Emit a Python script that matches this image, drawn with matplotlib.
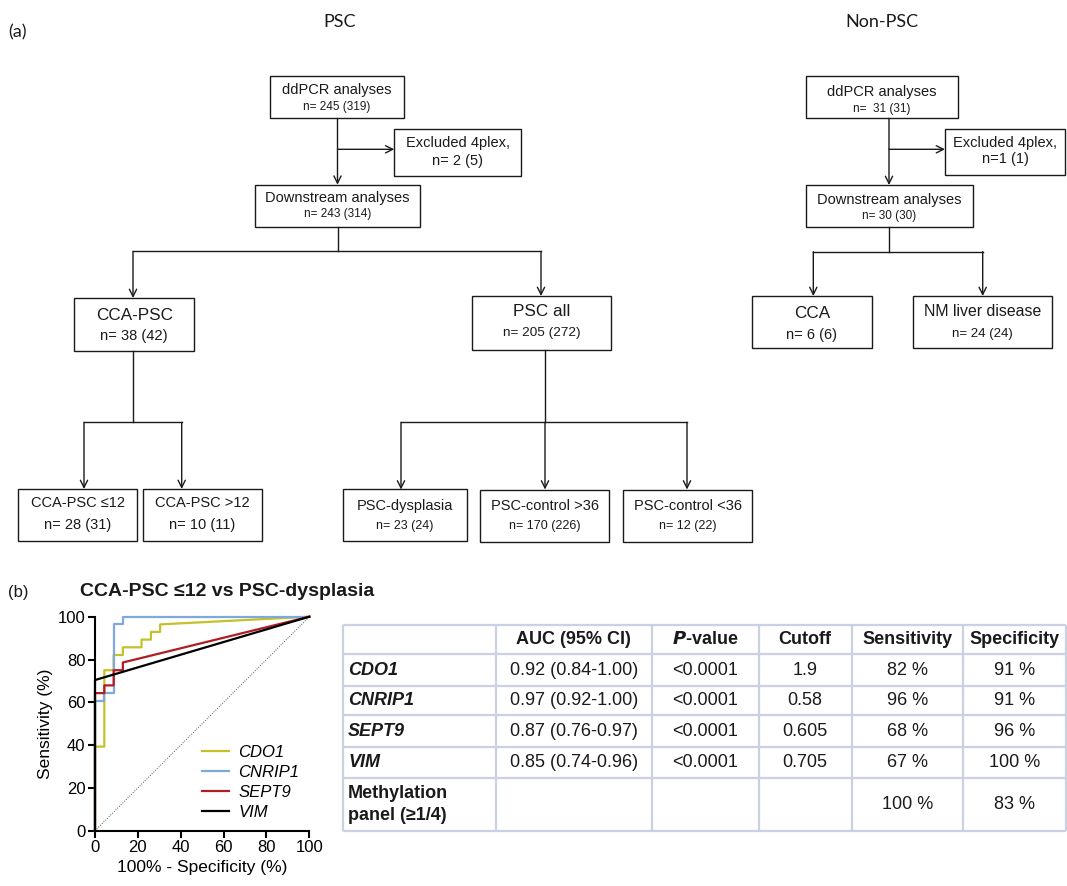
import matplotlib
matplotlib.use('Agg')
import matplotlib.pyplot as plt
from matplotlib.patches import Rectangle

plt.rcParams['font.family'] = ['Liberation Sans', 'DejaVu Sans']

# ---- flowchart contents ----
psc_labels = ['ddPCR analyses', 'Excluded 4plex,', 'Downstream analyses', 'CCA-PSC', 'PSC all',
              'CCA-PSC \u226412', 'CCA-PSC >12', 'PSC-dysplasia', 'PSC-control >36', 'PSC-control <36']
psc_counts = ['n= 245 (319)', 'n= 2 (5)', 'n= 243 (314)', 'n= 38 (42)', 'n= 205 (272)',
              'n= 28 (31)', 'n= 10 (11)', 'n= 23 (24)', 'n= 170 (226)', 'n= 12 (22)']
non_labels = ['ddPCR analyses', 'Excluded 4plex,', 'Downstream analyses', 'CCA', 'NM liver disease']
non_counts = ['n=  31 (31)', 'n=1 (1)', 'n= 30 (30)', 'n= 6 (6)', 'n= 24 (24)']

# ---- ROC curves (100% - specificity, sensitivity) ----
cdo1_fpr = [0, 0, 4.35, 4.35, 8.7, 8.7, 13.0, 13.0, 21.7, 21.7, 26.1, 26.1, 30.4, 30.4, 100]
cdo1_tpr = [0, 39.3, 39.3, 75.0, 75.0, 82.1, 82.1, 85.7, 85.7, 89.3, 89.3, 92.9, 92.9, 96.4, 100]
cnrip1_fpr = [0, 0, 4.35, 4.35, 8.7, 8.7, 13.0, 13.0, 100]
cnrip1_tpr = [0, 60.7, 60.7, 64.3, 64.3, 96.4, 96.4, 100, 100]
sept9_fpr = [0, 0, 4.35, 4.35, 8.7, 8.7, 13.0, 13.0, 100]
sept9_tpr = [0, 64.3, 64.3, 67.9, 67.9, 75.0, 75.0, 78.6, 100]
vim_fpr = [0, 0, 100]
vim_tpr = [0, 70.4, 100]
genes = ['CDO1', 'CNRIP1', 'SEPT9', 'VIM']

# ---- table ----
col_headers = ['', 'AUC (95% CI)', 'P-value', 'Cutoff', 'Sensitivity', 'Specificity']
row_names = ['CDO1', 'CNRIP1', 'SEPT9', 'VIM', 'Methylation\npanel (\u22651/4)']
auc_ci = ['0.92 (0.84-1.00)', '0.97 (0.92-1.00)', '0.87 (0.76-0.97)', '0.85 (0.74-0.96)', '']
p_values = ['<0.0001', '<0.0001', '<0.0001', '<0.0001', '']
cutoffs = ['1.9', '0.58', '0.605', '0.705', '']
sensitivity = ['82 %', '96 %', '68 %', '67 %', '100 %']
specificity = ['91 %', '91 %', '96 %', '100 %', '83 %']

W, H = 1067, 886
fig = plt.figure(figsize=(W / 100, H / 100), dpi=100)
bg = fig.add_axes([0, 0, 1, 1])
bg.set_xlim(0, W)
bg.set_ylim(H, 0)
bg.axis('off')

ink = '#1a1a1a'


def box(x0, x1, y0, y1, t1, t2, s1, s2, ty1, ty2):
    bg.add_patch(Rectangle((x0, y0), x1 - x0, y1 - y0, fill=False, ec=ink, lw=1.0))
    xc = (x0 + x1) / 2
    bg.text(xc, ty1, t1, ha='center', va='center', fontsize=s1, color=ink)
    bg.text(xc, ty2, t2, ha='center', va='center', fontsize=s2, color=ink)


def line(xs, ys):
    bg.plot(xs, ys, color=ink, lw=1.0)


def arrow(x0, y0, x1, y1):
    bg.annotate('', xy=(x1, y1), xytext=(x0, y0),
                arrowprops=dict(arrowstyle='->', color=ink, lw=1.0,
                                mutation_scale=13, shrinkA=0, shrinkB=0))


# panel headings
bg.text(8, 32, '(a)', fontsize=13, family='Lato', va='center', color=ink)
bg.text(340, 22, 'PSC', fontsize=13, family='Lato', ha='center', va='center', color=ink)
bg.text(882, 22, 'Non-PSC', fontsize=13, family='Lato', ha='center', va='center', color=ink)

# PSC flowchart
psc_boxes = [
    (270, 404, 75.7, 118.3, 10.5, 8.5, 90, 106.5),
    (394.3, 520.7, 129.3, 175.7, 10.5, 10.5, 143.3, 161),
    (255, 419.7, 184.7, 226.7, 10.5, 8.5, 198.3, 214.3),
    (74, 194.3, 298, 351, 12.3, 10.6, 315, 336),
    (472.3, 610.7, 296, 350, 12.3, 9.7, 311.7, 332.7),
    (18.3, 137.3, 489, 540.7, 10.5, 10.5, 503.3, 525),
    (142.7, 262.3, 489, 540.7, 10.5, 10.5, 503.3, 525),
    (343.3, 466.7, 489.3, 541.3, 10.5, 9, 506, 526),
    (480, 609.3, 490, 542, 10.5, 9, 506, 526),
    (623.3, 752, 490, 542, 10.5, 9, 506, 526),
]
for (x0, x1, y0, y1, s1, s2, ty1, ty2), t1, t2 in zip(psc_boxes, psc_labels, psc_counts):
    box(x0, x1, y0, y1, t1, t2, s1, s2, ty1, ty2)

arrow(337.5, 118.3, 337.5, 184.7)
arrow(337.5, 149.3, 394.3, 149.3)
line([337.5, 337.5], [226.7, 251.3])
line([133, 541], [251.3, 251.3])
arrow(133, 251.3, 133, 298)
arrow(541, 251.3, 541, 296)
line([133, 133], [351, 422.3])
line([84, 181.7], [422.3, 422.3])
arrow(84, 422.3, 84, 489)
arrow(181.7, 422.3, 181.7, 489)
line([545, 545], [350, 422.3])
line([401, 687], [422.3, 422.3])
for xa in [401, 545, 687]:
    arrow(xa, 422.3, xa, 489.5)

# Non-PSC flowchart
non_boxes = [
    (806, 958, 75.7, 118.3, 10.5, 8.5, 91.7, 108.5),
    (945, 1065, 129.3, 175, 10.5, 10.5, 143.3, 159.3),
    (805.7, 972.7, 185, 226.7, 10.5, 8.5, 200, 216),
    (751.7, 871.7, 296, 347.7, 12.3, 10.5, 313.3, 335.5),
    (912.7, 1051.7, 296, 347.7, 11.4, 9.5, 311.7, 334),
]
for (x0, x1, y0, y1, s1, s2, ty1, ty2), t1, t2 in zip(non_boxes, non_labels, non_counts):
    box(x0, x1, y0, y1, t1, t2, s1, s2, ty1, ty2)

arrow(889, 118.3, 889, 185)
arrow(889, 149.3, 945, 149.3)
line([889, 889], [226.7, 251.7])
line([813.3, 982.7], [251.7, 251.7])
arrow(813.3, 251.7, 813.3, 296)
arrow(982.7, 251.7, 982.7, 296)

# panel (b) headings
bg.text(8, 592, '(b)', fontsize=12, va='center', color=ink)
bg.text(80, 592, 'CCA-PSC \u226412 vs PSC-dysplasia', fontsize=14, fontweight='bold',
        va='center', color=ink)

# ---- table ----
col_x = [342.7, 495.7, 651.7, 758.6, 851.6, 963.3, 1066]
row_y = [624.7, 654.3, 686, 715.3, 747, 777.7, 831.3]
grid_c = '#c9d1e3'
for xv in col_x:
    bg.plot([xv, xv], [row_y[0], row_y[-1]], color=grid_c, lw=1.6, solid_capstyle='butt')
for yv in row_y:
    bg.plot([col_x[0], col_x[-1]], [yv, yv], color=grid_c, lw=1.6, solid_capstyle='butt')

hy = (row_y[0] + row_y[1]) / 2
for j, h in enumerate(col_headers):
    xc = (col_x[j] + col_x[j + 1]) / 2
    if h == 'P-value':
        bg.text(xc, hy, r'$\bfit{P}$' + '-value', ha='center', va='center', fontsize=13,
                fontweight='bold', color=ink)
    else:
        bg.text(xc, hy, h, ha='center', va='center', fontsize=13, fontweight='bold', color=ink)

columns = [auc_ci, p_values, cutoffs, sensitivity, specificity]
for i, name in enumerate(row_names):
    yc = (row_y[i + 1] + row_y[i + 2]) / 2
    style = 'normal' if '\n' in name else 'italic'
    bg.text(348, yc, name, ha='left', va='center', fontsize=13, fontweight='bold',
            fontstyle=style, color=ink, linespacing=1.35)
    for j, col in enumerate(columns):
        xc = (col_x[j + 1] + col_x[j + 2]) / 2
        bg.text(xc, yc, col[i], ha='center', va='center', fontsize=13, color=ink)

# ---- ROC plot ----
ax = fig.add_axes([95 / W, (H - 830.7) / H, 214.3 / W, 214 / H])
ax.patch.set_alpha(0)
ax.plot([0, 100], [0, 100], color='#555555', lw=0.7, ls=(0, (1, 1.5)))
ax.plot(cdo1_fpr, cdo1_tpr, color='#c3c22a', lw=1.6, label=genes[0], clip_on=False)
ax.plot(cnrip1_fpr, cnrip1_tpr, color='#7fa8dc', lw=1.6, label=genes[1], clip_on=False)
ax.plot(sept9_fpr, sept9_tpr, color='#b01e22', lw=1.6, label=genes[2], clip_on=False)
ax.plot(vim_fpr, vim_tpr, color='black', lw=1.6, label=genes[3], clip_on=False)
ax.set_xlim(0, 100)
ax.set_ylim(0, 100)
ax.set_xticks(range(0, 101, 20))
ax.set_yticks(range(0, 101, 20))
for s in ['top', 'right']:
    ax.spines[s].set_visible(False)
for s in ['left', 'bottom']:
    ax.spines[s].set_linewidth(1.5)
ax.tick_params(direction='out', length=5, width=1.5, labelsize=12, pad=2)
ax.set_xlabel('100% - Specificity (%)', fontsize=12.5, labelpad=3)
ax.set_ylabel('Sensitivity (%)', fontsize=12.5, labelpad=3)
leg = ax.legend(loc='upper left', bbox_to_anchor=(0.46, 0.44), frameon=False,
                handlelength=1.6, handletextpad=0.6, labelspacing=0.3,
                borderpad=0, prop={'size': 12, 'style': 'italic'})

fig.savefig('out.png', dpi=100)
